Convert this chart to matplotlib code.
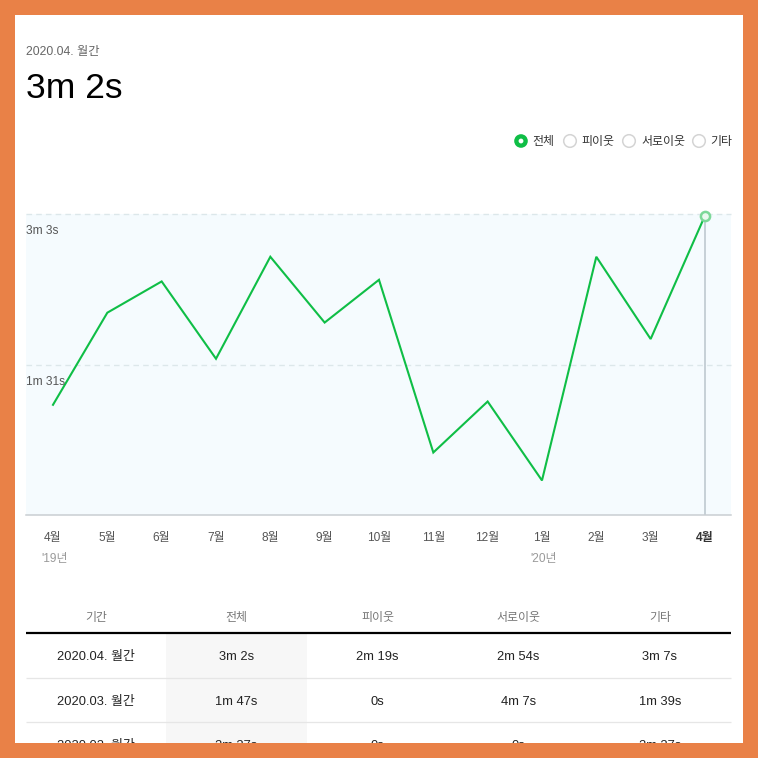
import matplotlib
matplotlib.use("Agg")
import matplotlib.pyplot as plt
from matplotlib.patches import Rectangle, Circle

FONT = ['Liberation Sans', 'Noto Sans CJK KR', 'DejaVu Sans']
plt.rcParams['font.family'] = FONT

months = ['4월', '5월', '6월', '7월', '8월', '9월', '10월', '11월', '12월', '1월', '2월', '3월', '4월']
seconds = [67, 123, 142, 95, 157, 117, 143, 38, 69, 21, 157, 107, 182]
year_labels = {0: "'19년", 9: "'20년"}
y_ticks = [91.5, 183]
y_tick_labels = ['1m 31s', '3m 3s']
legend_items = ['전체', '피이웃', '서로이웃', '기타']
table_header = ['기간', '전체', '피이웃', '서로이웃', '기타']
table_rows = [
    ['2020.04. 월간', '3m 2s', '2m 19s', '2m 54s', '3m 7s'],
    ['2020.03. 월간', '1m 47s', '0s', '4m 7s', '1m 39s'],
    ['2020.02. 월간', '2m 37s', '0s', '0s', '2m 37s'],
]
subtitle = '2020.04. 월간'
headline = '3m 2s'

ORANGE = '#E98147'
GREEN = '#0FBE46'
W = H = 758

fig = plt.figure(figsize=(7.58, 7.58), dpi=100, facecolor='white')

# Overlay axes in image pixels for page furniture
page = fig.add_axes([0, 0, 1, 1], zorder=1)
page.set_xlim(0, W)
page.set_ylim(H, 0)
page.axis('off')
page.patch.set_alpha(0)

# Chart axes
ax = fig.add_axes([26 / W, (H - 515) / H, 705 / W, 301 / H], zorder=2)
ax.set_facecolor('#F5FBFE')
ax.set_xlim(-0.497, 12.479)
ax.set_ylim(0, 183)
x = list(range(len(months)))
for v in y_ticks:
    ax.axhline(v, color='#DCE7EA', lw=1.0, ls=(0, (4, 3)), zorder=1, clip_on=False)
ax.vlines(x[-1], 0, seconds[-1], color='#C3CDD3', lw=1.3, zorder=2)
ax.plot(x, seconds, color=GREEN, lw=1.5, zorder=3, solid_joinstyle='miter')
ax.plot(x[-1], seconds[-1], 'o', ms=6.6, mfc='#EAF9EF', mec='#7CD898', mew=1.8, zorder=4, clip_on=False)

for s in ['top', 'left', 'right']:
    ax.spines[s].set_visible(False)
ax.spines['bottom'].set_color('#C9CED2')
ax.spines['bottom'].set_linewidth(1.1)

ax.set_xticks(x)
ax.set_xticklabels(months, fontsize=8.6, color='#555555')
ax.tick_params(axis='x', length=0, pad=12.5)
last = ax.get_xticklabels()[-1]
last.set_fontweight('bold')
last.set_color('#333333')
ax.set_yticks([])

for v, lab in zip(y_ticks, y_tick_labels):
    ax.annotate(lab, xy=(0, v), xycoords=('axes fraction', 'data'), xytext=(0, -12.5),
                textcoords='offset points', ha='left', va='center', fontsize=8.6, color='#555555')
for i, lab in year_labels.items():
    ax.annotate(lab, xy=(i, 0), xycoords='data', xytext=(1, -32),
                textcoords='offset points', ha='center', va='center', fontsize=8.6, color='#9A9A9A')

# Header
page.text(26, 55.5, subtitle, fontsize=8.8, color='#666666', ha='left', va='baseline')
page.text(26, 97.5, headline, fontsize=25.5, color='#000000', ha='left', va='baseline')

# Legend
legend_cx = [521, 570, 629, 699]
legend_tx = [532, 581, 641, 710]
for k, (cx, tx, lab) in enumerate(zip(legend_cx, legend_tx, legend_items)):
    if k == 0:
        page.add_patch(Circle((cx, 141), 6.8, fc=GREEN, ec='none'))
        page.add_patch(Circle((cx, 141), 2.4, fc='white', ec='none'))
    else:
        page.add_patch(Circle((cx, 141), 6.3, fc='white', ec='#D4D4D4', lw=1.1))
    page.text(tx, 142.5, lab, fontsize=8.6, color='#333333', ha='left', va='center')

# Table
col_edges = [26, 166, 307, 448, 589, 731]
col_centers = [(a + b) / 2 for a, b in zip(col_edges[:-1], col_edges[1:])]
row_baselines = [660, 705, 749]
page.add_patch(Rectangle((col_edges[1], 634), col_edges[2] - col_edges[1], 110, fc='#F7F7F7', ec='none', zorder=0))
for cx, lab in zip(col_centers, table_header):
    page.text(cx, 618.5, lab, fontsize=8.6, color='#777777', ha='center', va='center')
page.plot([26, 731], [633, 633], color='black', lw=1.6, solid_capstyle='butt')
for yy in [678, 722]:
    page.plot([26, 731], [yy, yy], color='#E6E6E6', lw=0.9, solid_capstyle='butt')
for yy, row in zip(row_baselines, table_rows):
    for cx, val in zip(col_centers, row):
        page.text(cx, yy, val, fontsize=9.3, color='#222222', ha='center', va='baseline')

# Orange frame on top, clips the third table row
frame = fig.add_axes([0, 0, 1, 1], zorder=5)
frame.set_xlim(0, W)
frame.set_ylim(H, 0)
frame.axis('off')
frame.patch.set_alpha(0)
for r in [(0, 0, W, 15), (0, 743, W, 15), (0, 0, 15, H), (743, 0, 15, H)]:
    frame.add_patch(Rectangle(r[:2], r[2], r[3], fc=ORANGE, ec='none'))

fig.savefig('out.png', dpi=100)
